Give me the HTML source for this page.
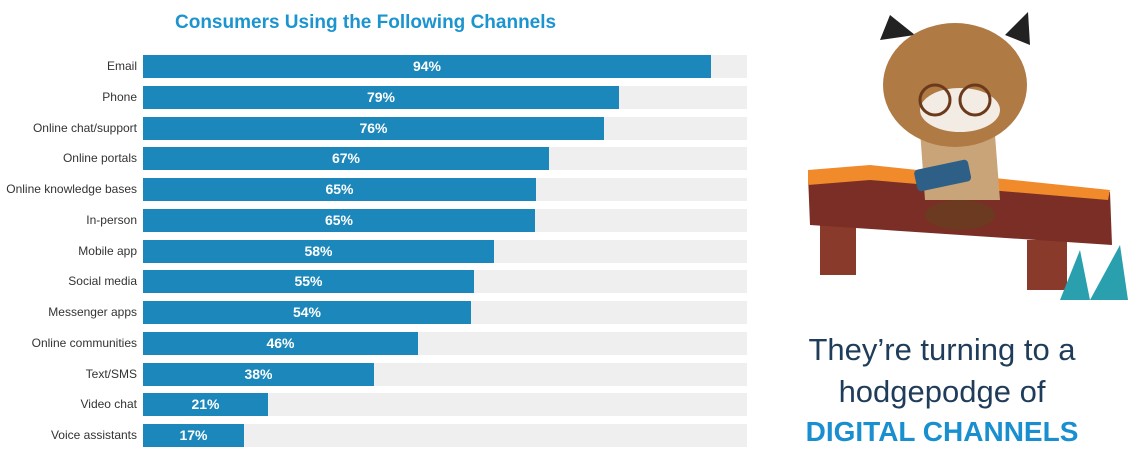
<!DOCTYPE html>
<html><head><meta charset="utf-8"><style>
body{margin:0;width:1138px;height:464px;background:#fff;position:relative;overflow:hidden;font-family:"Liberation Sans",sans-serif}
.t{position:absolute;left:143px;width:604px;top:12px;text-align:left;padding-left:32px;box-sizing:border-box;font-size:19px;font-weight:bold;color:#1c94d0}
.lab{position:absolute;right:1001px;font-size:12px;color:#333;white-space:nowrap;text-align:right}
.bg{position:absolute;left:143px;width:604px;height:23px;background:#efefef}
.bar{position:absolute;left:143px;height:23px;background:#1b87ba;color:#fff;font-weight:bold;font-size:14px;text-align:center;line-height:23px}
.r{position:absolute;left:790px;width:304px;text-align:center;font-size:31px;color:#1f3d5a;white-space:nowrap}
</style></head><body>
<div class="t">Consumers Using the Following Channels</div>
<div id="c"></div>
<script>
var d=[["Email",94,711],["Phone",79,619],["Online chat/support",76,604],["Online portals",67,549],["Online knowledge bases",65,536],["In-person",65,535],["Mobile app",58,494],["Social media",55,474],["Messenger apps",54,471],["Online communities",46,418],["Text/SMS",38,374],["Video chat",21,268],["Voice assistants",17,244]];
var h="";d.forEach(function(r,i){var t=55+i*30.75;
h+='<div class="lab" style="top:'+(t+4)+'px">'+r[0]+'</div><div class="bg" style="top:'+t+'px"></div><div class="bar" style="top:'+t+'px;width:'+(r[2]-143)+'px">'+r[1]+'%</div>';});
document.getElementById("c").innerHTML=h;
</script>
<svg style="position:absolute;left:790px;top:0" width="348" height="310">
<rect x="30" y="225" width="36" height="50" fill="#8a3a2a"/>
<rect x="237" y="240" width="40" height="50" fill="#8a3a2a"/>
<path d="M18 175 L320 192 L322 245 L20 225 Z" fill="#7a2e26"/>
<path d="M18 170 L80 165 L320 190 L318 200 L80 180 L18 185Z" fill="#f08a2a"/>
<ellipse cx="170" cy="215" rx="35" ry="15" fill="#6b3a20"/>
<path d="M130 130 Q170 120 205 135 L210 200 L135 200Z" fill="#c9a478"/>
<rect x="125" y="165" width="55" height="22" rx="4" fill="#2e5f86" transform="rotate(-12 150 175)"/>
<path d="M90 40 L100 15 L125 35Z" fill="#222"/><path d="M215 35 L238 12 L240 45Z" fill="#222"/>
<ellipse cx="165" cy="85" rx="72" ry="62" fill="#b07a45"/>
<ellipse cx="170" cy="110" rx="40" ry="22" fill="#f3ece4"/>
<circle cx="145" cy="100" r="15" fill="none" stroke="#6b3a1a" stroke-width="3"/>
<circle cx="185" cy="100" r="15" fill="none" stroke="#6b3a1a" stroke-width="3"/>
<path d="M270 300 L290 250 L300 300Z M300 300 L330 245 L338 300Z" fill="#2a9fae"/>
</svg>
<div class="r" style="top:332px">They’re turning to a</div>
<div class="r" style="top:374px">hodgepodge of</div>
<div class="r" style="top:416px;font-weight:bold;color:#1a8fd0;font-size:28px">DIGITAL CHANNELS</div>
</body></html>
